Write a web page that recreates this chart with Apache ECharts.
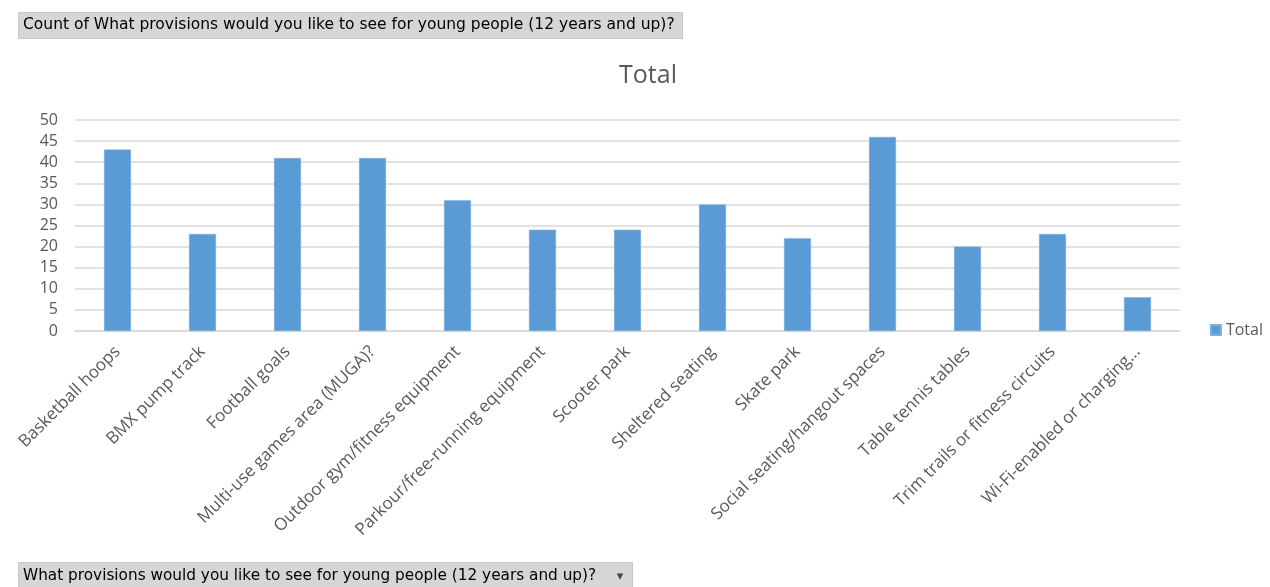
<!DOCTYPE html>
<html><head><meta charset="utf-8">
<script src="https://cdn.jsdelivr.net/npm/echarts@6/dist/echarts.min.js"></script>
<style>html,body{margin:0;padding:0;background:#fff}#c{width:1270px;height:587px}</style>
</head><body><div id="c"></div>
<script>
const categories = ["Basketball hoops","BMX pump track","Football goals","Multi-use games area (MUGA)?","Outdoor gym/fitness equipment","Parkour/free-running equipment","Scooter park","Sheltered seating","Skate park","Social seating/hangout spaces","Table tennis tables","Trim trails or fitness circuits","Wi-Fi-enabled or charging..."];
const totals = [43,23,41,41,31,24,24,30,22,46,20,23,8];
const seriesName = "Total";
const topLabel = "Count of What provisions would you like to see for young people (12 years and up)?";
const bottomLabel = "What provisions would you like to see for young people (12 years and up)?";

const chart = echarts.init(document.getElementById('c'), null, {renderer:'canvas'});
const font = "'Open Sans', sans-serif";
const boxFont = "'DejaVu Sans', sans-serif";
chart.setOption({
  animation:false,
  legend:{data:[seriesName],right:2,top:317,orient:'vertical',icon:'rect',itemWidth:10,itemHeight:10,itemGap:4,
    textStyle:{fontFamily:font,fontSize:16,color:'#595959'}},
  grid:{left:75,right:90,top:120,bottom:256,containLabel:false},
  xAxis:{type:'category',data:categories,
    axisLine:{lineStyle:{color:'#d9d9d9',width:1.5}},axisTick:{show:false},
    axisLabel:{rotate:45,interval:0,fontFamily:font,fontSize:17,color:'#595959',margin:18}},
  yAxis:{type:'value',min:0,max:50,interval:5,
    axisLine:{show:false},axisTick:{show:false},
    splitLine:{lineStyle:{color:'#d9d9d9',width:1.5}},
    axisLabel:{fontFamily:font,fontSize:16,color:'#595959',margin:17}},
  series:[{name:seriesName,type:'bar',data:totals,barWidth:27,
    itemStyle:{color:'#5b9bd5',borderColor:'#7fb0e0',borderWidth:0.5}}],
  graphic:[
    {type:'text',x:648,y:76,style:{text:seriesName,fontFamily:font,fontSize:25,fill:'#595959',align:'center',verticalAlign:'middle'}},
    {type:'rect',left:18,top:12,shape:{width:664,height:26},style:{fill:'#d6d6d6',stroke:'#c8c8c8'}},
    {type:'text',x:23,y:25,style:{text:topLabel,fontFamily:boxFont,fontSize:15.5,fill:'#000',verticalAlign:'middle'}},
    {type:'rect',left:18,top:562,shape:{width:614,height:26},style:{fill:'#d6d6d6',stroke:'#c8c8c8'}},
    {type:'text',x:23,y:576,style:{text:bottomLabel,fontFamily:boxFont,fontSize:15.3,fill:'#000',verticalAlign:'middle'}},
    {type:'text',x:620,y:577,style:{text:"\u25BE",fontFamily:boxFont,fontSize:13,fill:'#444',align:'center',verticalAlign:'middle'}}
  ]
});
</script></body></html>
